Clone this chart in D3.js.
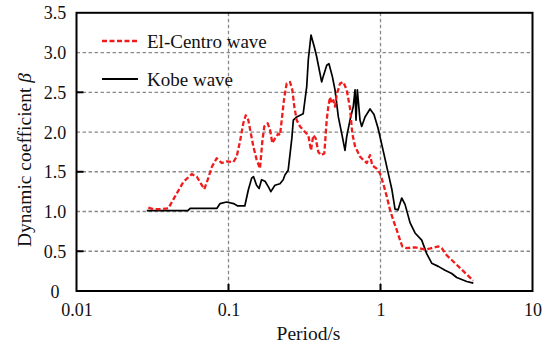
<!DOCTYPE html>
<html>
<head>
<meta charset="utf-8">
<script src="https://cdn.jsdelivr.net/npm/d3@7/dist/d3.min.js"></script>
<style>
  html, body { margin: 0; padding: 0; background: #fff; overflow: hidden; }
  svg { display: block; }
  svg text { font-family: "Liberation Serif", "DejaVu Serif", serif; }
</style>
</head>
<body>
<svg id="chart" width="542" height="341"></svg>
<script>
// ---- data ----
const elCentroPeriod = [0.0297,0.0320,0.0354,0.0402,0.0445,0.0504,0.0573,0.0618,0.0649,0.0693,0.0736,0.0776,0.0836,0.0902,0.0973,0.1075,0.1132,0.1190,0.1251,0.1298,0.1350,0.1456,0.1533,0.1611,0.1669,0.1720,0.1811,0.1875,0.1942,0.2023,0.2127,0.2182,0.2239,0.2329,0.2415,0.2539,0.2629,0.2710,0.2810,0.2954,0.3187,0.3350,0.3490,0.3613,0.3748,0.3898,0.4061,0.4269,0.4427,0.4536,0.4655,0.4776,0.4894,0.5020,0.5150,0.5415,0.5692,0.5993,0.6300,0.6524,0.6796,0.7331,0.7704,0.8115,0.8529,0.8834,0.9441,0.9924,1.043,1.099,1.155,1.214,1.278,1.344,1.391,1.487,1.687,1.963,2.172,2.401,2.527,2.726,2.941,3.334,4.08];
const elCentroBeta = [1.05,1.03,1.03,1.04,1.19,1.37,1.47,1.44,1.37,1.28,1.42,1.56,1.67,1.61,1.63,1.62,1.69,1.88,2.11,2.21,2.15,1.82,1.65,1.54,1.88,2.07,2.11,2.03,1.86,1.92,1.98,1.96,2.15,2.44,2.61,2.63,2.53,2.32,2.15,2.07,2.00,1.96,1.77,1.96,1.92,1.75,1.71,1.73,2.15,2.32,2.44,2.36,2.40,2.32,2.47,2.61,2.63,2.53,2.30,1.98,1.82,1.69,1.65,1.61,1.71,1.58,1.54,1.48,1.35,1.19,1.02,0.89,0.77,0.64,0.56,0.54,0.55,0.52,0.54,0.56,0.54,0.45,0.39,0.29,0.13];

const kobePeriod = [0.029,0.040,0.054,0.056,0.084,0.088,0.097,0.108,0.115,0.128,0.135,0.142,0.146,0.153,0.159,0.165,0.174,0.183,0.190,0.202,0.218,0.229,0.235,0.247,0.255,0.261,0.267,0.281,0.310,0.327,0.335,0.349,0.367,0.380,0.410,0.420,0.443,0.458,0.482,0.502,0.528,0.556,0.584,0.599,0.630,0.662,0.680,0.690,0.704,0.733,0.752,0.791,0.853,0.906,0.963,1.043,1.125,1.190,1.246,1.304,1.379,1.450,1.564,1.687,1.867,2.013,2.172,2.401,2.657,2.941,3.173,3.692,4.08];
const kobeBeta = [1.01,1.01,1.01,1.04,1.04,1.10,1.12,1.10,1.07,1.07,1.27,1.42,1.44,1.33,1.29,1.40,1.38,1.31,1.25,1.33,1.35,1.40,1.46,1.52,1.75,1.92,2.15,2.19,2.23,2.57,2.91,3.22,3.07,2.95,2.63,2.70,2.84,2.86,2.70,2.53,2.19,1.98,1.77,1.94,2.15,2.32,2.53,2.15,2.53,2.15,2.07,2.19,2.29,2.22,2.05,1.76,1.48,1.27,1.03,1.02,1.17,1.09,0.86,0.73,0.64,0.47,0.35,0.31,0.26,0.22,0.17,0.12,0.10];

const seriesNames = ["El-Centro wave", "Kobe wave"];
const xTicks = [0.01, 0.1, 1, 10];
const xTickLabels = ["0.01", "0.1", "1", "10"];
const yTicks = [0, 0.5, 1.0, 1.5, 2.0, 2.5, 3.0, 3.5];
const yTickLabels = ["0", "0.5", "1.0", "1.5", "2.0", "2.5", "3.0", "3.5"];
const xTitle = "Period/s";
const yTitle = "Dynamic coefficient ";
const yTitleSymbol = "β";

// ---- layout ----
const FONT = "Liberation Serif";
const L = 76.5, R = 532.5, T = 12.8, B = 291;
const svg = d3.select("#chart");
const x = d3.scaleLog().domain([0.01, 10]).range([L, R]);
const y = d3.scaleLinear().domain([0, 3.5]).range([B, T]);

// grid
const gridColor = "#8a8a8a";
svg.append("g").selectAll("line").data(yTicks.filter(v => v > 0 && v < 3.5)).enter()
  .append("line")
  .attr("x1", L).attr("x2", R).attr("y1", d => y(d)).attr("y2", d => y(d))
  .attr("stroke", gridColor).attr("stroke-width", 1.3).attr("stroke-dasharray", "3.5,2.5");
svg.append("g").selectAll("line").data(xTicks.filter(v => v > 0.01 && v < 10)).enter()
  .append("line")
  .attr("x1", d => x(d)).attr("x2", d => x(d)).attr("y1", T).attr("y2", B)
  .attr("stroke", gridColor).attr("stroke-width", 1.3).attr("stroke-dasharray", "3.5,2.5");

// axes (labels through d3 axes)
const xAxis = d3.axisBottom(x).tickValues(xTicks)
  .tickFormat((d, i) => xTickLabels[i]).tickSize(0).tickPadding(14);
const gx = svg.append("g").attr("transform", `translate(0,${B})`).call(xAxis)
  .attr("font-family", FONT).attr("font-size", 18);
gx.select(".domain").remove();
gx.selectAll("text").attr("font-size", 18).attr("fill", "#111")
  .attr("font-family", FONT).attr("dy", "0.71em").attr("y", 12);

const yAxis = d3.axisLeft(y).tickValues(yTicks)
  .tickFormat((d, i) => yTickLabels[i]).tickSize(0).tickPadding(0);
const gy = svg.append("g").attr("transform", `translate(${L},0)`).call(yAxis)
  .attr("font-family", FONT).attr("font-size", 18);
gy.select(".domain").remove();
gy.selectAll("text").attr("font-size", 18).attr("fill", "#111")
  .attr("font-family", FONT)
  .attr("text-anchor", "middle").attr("x", 55 - L).attr("dy", "0.34em");

// inward ticks
svg.append("g").selectAll("line").data([0.5, 1.5, 2.5]).enter().append("line")
  .attr("x1", L).attr("x2", L + 7).attr("y1", d => y(d)).attr("y2", d => y(d))
  .attr("stroke", "#000").attr("stroke-width", 2);
svg.append("g").selectAll("line").data([0.1, 1]).enter().append("line")
  .attr("x1", d => x(d)).attr("x2", d => x(d)).attr("y1", B).attr("y2", B - 7)
  .attr("stroke", "#000").attr("stroke-width", 2);

// lines
const line = d3.line().x(d => x(d[0])).y(d => y(d[1]));
const elData = elCentroPeriod.map((p, i) => [p, elCentroBeta[i]]);
const kbData = kobePeriod.map((p, i) => [p, kobeBeta[i]]);

svg.append("path").datum(kbData).attr("d", line)
  .attr("fill", "none").attr("stroke", "#000").attr("stroke-width", 1.7)
  .attr("stroke-linejoin", "round");
svg.append("path").datum(elData).attr("d", line)
  .attr("fill", "none").attr("stroke", "#f01c1c").attr("stroke-width", 2.3)
  .attr("stroke-dasharray", "5,2.5").attr("stroke-linejoin", "round");

// frame
svg.append("rect").attr("x", L).attr("y", T).attr("width", R - L).attr("height", B - T)
  .attr("fill", "none").attr("stroke", "#000").attr("stroke-width", 2);

// legend
const leg = svg.append("g").attr("font-family", FONT);
leg.append("line").attr("x1", 102).attr("x2", 138).attr("y1", 41).attr("y2", 41)
  .attr("stroke", "#f01c1c").attr("stroke-width", 2.3).attr("stroke-dasharray", "5,2.5");
leg.append("text").attr("x", 147).attr("y", 48).attr("font-size", 19).attr("fill", "#111")
  .attr("font-family", FONT).text(seriesNames[0]);
leg.append("line").attr("x1", 102).attr("x2", 138).attr("y1", 79).attr("y2", 79)
  .attr("stroke", "#000").attr("stroke-width", 1.8);
leg.append("text").attr("x", 147).attr("y", 86).attr("font-size", 19).attr("fill", "#111")
  .attr("font-family", FONT).text(seriesNames[1]);

// titles
svg.append("text").attr("x", (L + R) / 2 + 4).attr("y", 340).attr("text-anchor", "middle")
  .attr("font-family", FONT).attr("font-size", 19.5).attr("fill", "#111").text(xTitle);
const yt = svg.append("text").attr("transform", "translate(31,160) rotate(-90)")
  .attr("font-family", FONT)
  .attr("text-anchor", "middle").attr("font-size", 19.5).attr("fill", "#111");
yt.append("tspan").text(yTitle);
yt.append("tspan").attr("font-style", "italic").text(yTitleSymbol);
</script>
</body>
</html>
